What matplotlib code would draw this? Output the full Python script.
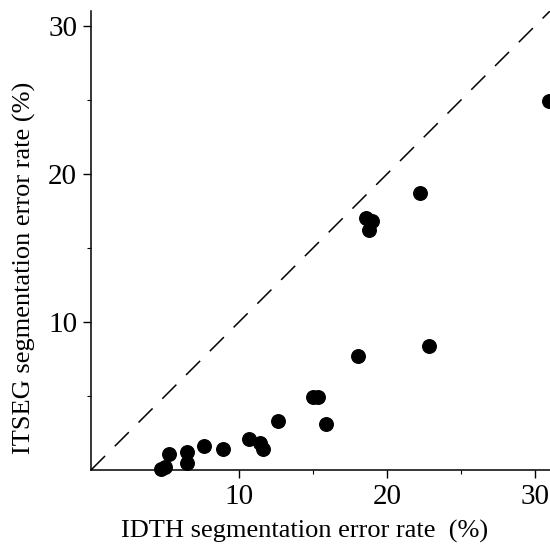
import matplotlib
matplotlib.use('Agg')
import matplotlib.pyplot as plt
import numpy as np

# IDTH error rate (x) vs ITSEG error rate (y), in %
idth = [4.7, 5.0, 5.3, 6.5, 6.5, 7.6, 8.9, 10.7, 11.4, 11.6, 12.6,
        15.0, 15.3, 15.9, 18.0, 22.8, 18.6, 19.0, 18.8, 22.2, 30.9]
itseg = [0.05, 0.2, 1.1, 1.2, 0.5, 1.6, 1.4, 2.1, 1.8, 1.4, 3.3,
         4.9, 4.9, 3.1, 7.7, 8.4, 17.0, 16.8, 16.2, 18.7, 24.9]

ticks = [10, 20, 30]

plt.rcParams['font.family'] = ['Liberation Serif', 'DejaVu Serif']

fig = plt.figure(figsize=(5.5, 5.5), dpi=100)
ax = fig.add_axes([91/550, 80/550, 459/550, 459/550])

ax.plot([0, 31], [0, 31], color='black', lw=1.1, dashes=(13, 9))
ax.scatter(idth, itseg, s=95, color='black', zorder=3, clip_on=False)

ax.set_xlim(0, 31)
ax.set_ylim(0, 31)
ax.set_xticks(ticks)
ax.set_yticks(ticks)
ax.set_xticks([5, 15, 25], minor=True)
ax.set_yticks([5, 15, 25], minor=True)
ax.tick_params(which='major', direction='out', length=6, width=1, labelsize=21, pad=4)
ax.tick_params(which='minor', direction='out', length=3, width=0.8)

for side in ['top', 'right']:
    ax.spines[side].set_visible(False)
for side in ['left', 'bottom']:
    ax.spines[side].set_linewidth(1.1)

ax.set_xlabel('IDTH segmentation error rate  (%)', fontsize=19)
ax.set_ylabel('ITSEG segmentation error rate (%)', fontsize=19)
ax.xaxis.set_label_coords(0.465, -0.108)
ax.yaxis.set_label_coords(-0.12, 0.44)

fig.savefig('out.png', dpi=100)
